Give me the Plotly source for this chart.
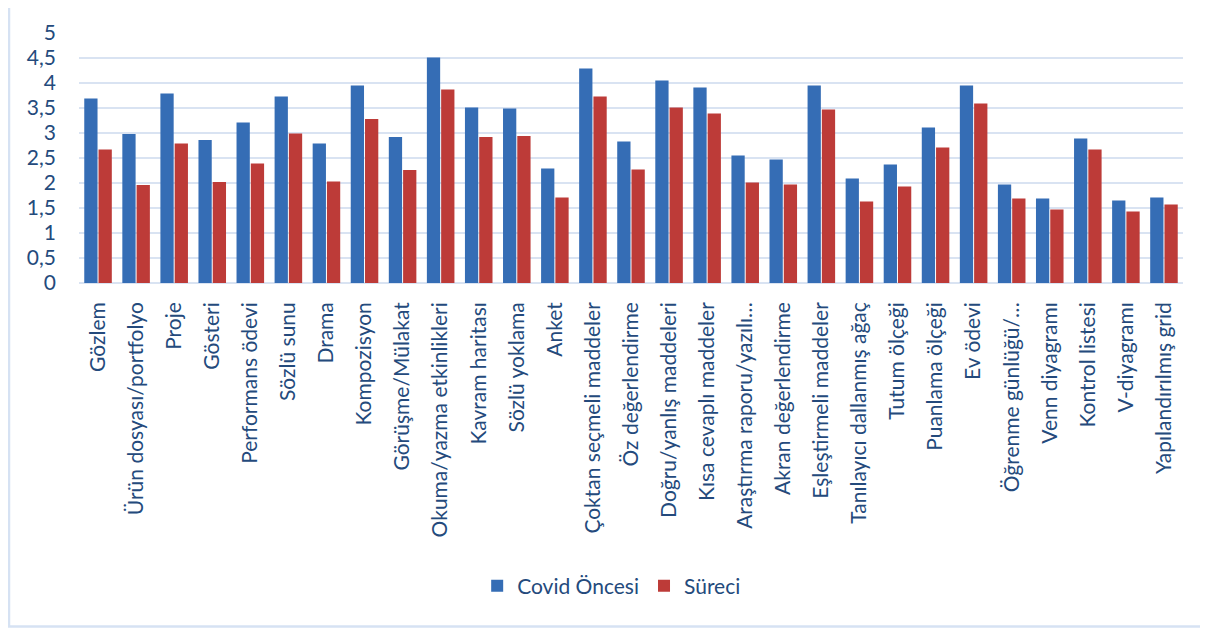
import plotly.graph_objects as go

categories = [
    "Gözlem", "Ürün dosyası/portfolyo", "Proje", "Gösteri", "Performans ödevi",
    "Sözlü sunu", "Drama", "Kompozisyon", "Görüşme/Mülakat", "Okuma/yazma etkinlikleri",
    "Kavram haritası", "Sözlü yoklama", "Anket", "Çoktan seçmeli maddeler", "Öz değerlendirme",
    "Doğru/yanlış maddeleri", "Kısa cevaplı maddeler", "Araştırma raporu/yazılı…",
    "Akran değerlendirme", "Eşleştirmeli maddeler", "Tanılayıcı dallanmış ağaç",
    "Tutum ölçeği", "Puanlama ölçeği", "Ev ödevi", "Öğrenme günlüğü/…",
    "Venn diyagramı", "Kontrol listesi", "V-diyagramı", "Yapılandırılmış grid",
]

covid_oncesi = [3.69, 2.98, 3.79, 2.86, 3.21, 3.73, 2.79, 3.95, 2.92, 4.51,
                3.51, 3.49, 2.29, 4.29, 2.83, 4.05, 3.91, 2.55, 2.47, 3.95,
                2.09, 2.37, 3.11, 3.95, 1.97, 1.69, 2.89, 1.65, 1.71]

sureci = [2.67, 1.96, 2.79, 2.02, 2.39, 2.99, 2.03, 3.28, 2.26, 3.87,
          2.92, 2.94, 1.71, 3.73, 2.27, 3.51, 3.39, 2.01, 1.97, 3.47,
          1.63, 1.93, 2.71, 3.59, 1.69, 1.47, 2.67, 1.43, 1.57]

series_names = ["Covid Öncesi", "Süreci"]

TEXT = "#244a7c"
GRID = "#d9e3f2"
FONT = "Lato"

fig = go.Figure()
fig.add_trace(go.Bar(x=categories, y=covid_oncesi, name=series_names[0],
                     marker=dict(color="#356db5", line=dict(width=0))))
fig.add_trace(go.Bar(x=categories, y=sureci, name=series_names[1],
                     marker=dict(color="#bd3b38", line=dict(width=0))))

fig.update_layout(
    width=1200, height=620,
    margin=dict(l=71, r=25, t=25, b=345),
    paper_bgcolor="white", plot_bgcolor="white",
    separators=", ",
    barmode="group", bargap=0.25, bargroupgap=0.07,
    font=dict(family=FONT, color=TEXT, size=20),
    showlegend=True,
    legend=dict(orientation="h", x=0.4825, xanchor="center", y=-1.212, yanchor="middle",
                font=dict(family=FONT, size=21, color=TEXT), itemwidth=30,
                traceorder="normal"),
    xaxis=dict(tickangle=-90, tickfont=dict(family=FONT, size=21, color=TEXT),
               showgrid=False, showline=False, ticks="", ticklabelstandoff=14),
    yaxis=dict(range=[0, 5], dtick=0.5, tick0=0, showgrid=True, gridcolor=GRID, gridwidth=2,
               zeroline=True, zerolinecolor=GRID, zerolinewidth=2,
               showline=False, ticks="", tickfont=dict(family=FONT, size=21, color=TEXT),
               ticklabelstandoff=22),
    shapes=[dict(type="rect", xref="paper", yref="paper",
                 x0=-0.0634, x1=1.1, y0=-1.374, y1=1.112,
                 line=dict(color="#d6e2f3", width=2.5), fillcolor="rgba(0,0,0,0)", layer="below")],
)

fig.write_html("out.html")
